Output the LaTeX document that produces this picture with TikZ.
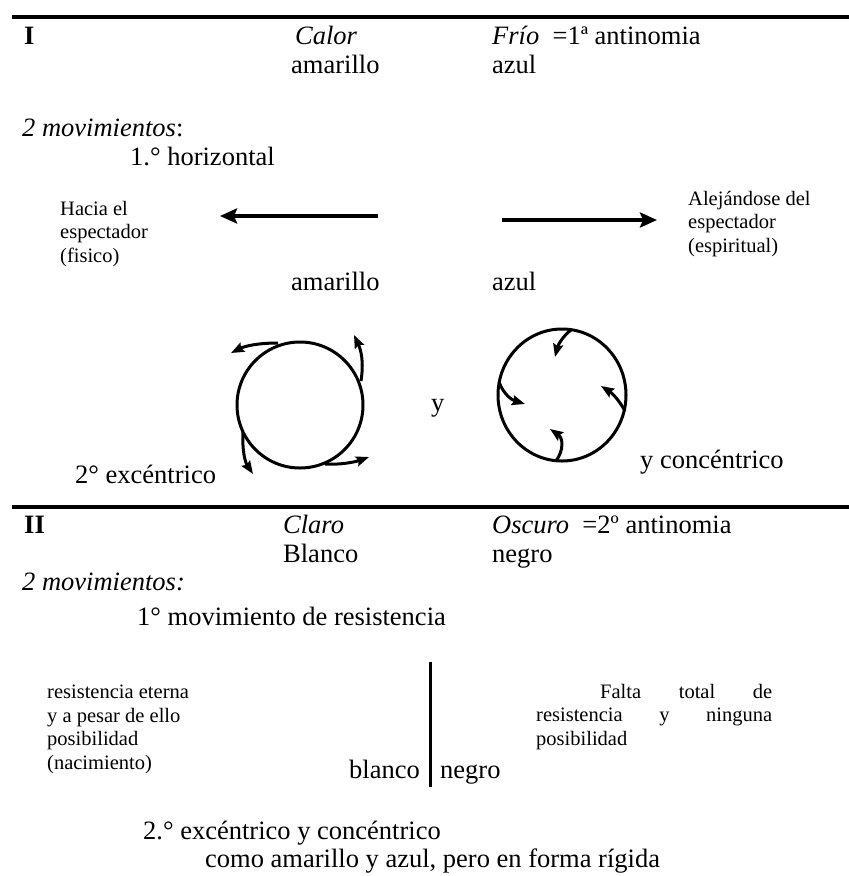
\documentclass[tikz,border=0pt]{standalone}
\usepackage{fontspec}
\setmainfont{Liberation Serif}
\usetikzlibrary{arrows.meta}
\begin{document}
\begin{tikzpicture}[x=1pt,y=-1pt,
  txt/.style={anchor=base west,inner sep=0pt,font=\fontsize{26.5}{30}\selectfont},
  sml/.style={anchor=base west,inner sep=0pt,align=left,font=\fontsize{20.5}{23.5}\selectfont},
  rulebar/.style={line width=4pt},
  bigarrow/.style={line width=3.5pt,-{Stealth[length=17pt,width=15pt,inset=3pt]}},
  circarrow/.style={line width=3pt,-{Stealth[length=13pt,width=10pt,inset=2pt]}},
  ring/.style={line width=3pt}]
\useasboundingbox (0,0) rectangle (849,876);
% ---------- Section I ----------
\coordinate (r1a) at (12,17); \coordinate (r1b) at (849,17);
\draw[rulebar] (r1a) -- (r1b);
\node[txt,font=\fontsize{26.5}{30}\selectfont\bfseries] (I) at (24,44) {I};
\node[txt] (calor) at (295,44) {\itshape Calor};
\node[txt] (frio) at (492,44) {\textit{Frío}\ \ =1ª antinomia};
\node[txt] (am1) at (291,73) {amarillo};
\node[txt] (az1) at (492,73) {azul};
\node[txt] (mov1) at (22,136) {\textit{2 movimientos}:};
\node[txt] (hor) at (130,165) {1.° horizontal};
\node[sml] (hacia) at (60,262) {Hacia el\\espectador\\(fisico)};
\node[sml] (alej) at (688,252) {Alejándose del\\espectador\\(espiritual)};
\coordinate (la1) at (378,216); \coordinate (la2) at (220,216);
\draw[bigarrow] (la1) -- (la2);
\coordinate (ra1) at (502,220); \coordinate (ra2) at (657,220);
\draw[bigarrow] (ra1) -- (ra2);
\node[txt] (am2) at (291,290) {amarillo};
\node[txt] (az2) at (492,290) {azul};
% left circle (eccentric)
\coordinate (lc) at (300,405);
\draw[ring] (lc) circle[radius=63];
\draw[circarrow] (278,343) .. controls (258,343) and (245,346) .. (231,353);
\draw[circarrow] (361,381) .. controls (364,362) and (361,350) .. (354,335);
\draw[circarrow] (243,432) .. controls (242,450) and (245,462) .. (253,474);
\draw[circarrow] (325,464) .. controls (340,465) and (355,462) .. (369,457);
\node[txt] (y) at (431,411) {y};
% right circle (concentric)
\coordinate (rc) at (562,395);
\draw[ring] (rc) ellipse[x radius=64,y radius=66];
\draw[circarrow] (571,330) .. controls (563,336) and (558,345) .. (555,357);
\draw[circarrow] (499,382) .. controls (504,395) and (512,400) .. (525,404);
\draw[circarrow] (625,411) .. controls (619,400) and (612,393) .. (601,386);
\draw[circarrow] (556,461) .. controls (564,450) and (563,438) .. (550,429);
\node[txt] (conc) at (640,468) {y concéntrico};
\node[txt] (exc) at (75,483) {2° excéntrico};
% ---------- Section II ----------
\coordinate (r2a) at (12,507); \coordinate (r2b) at (849,507);
\draw[rulebar] (r2a) -- (r2b);
\node[txt,font=\fontsize{26.5}{30}\selectfont\bfseries] (II) at (24,533) {II};
\node[txt] (claro) at (283,533) {\itshape Claro};
\node[txt] (oscuro) at (492,533) {\textit{Oscuro}\ \ =2º antinomia};
\node[txt] (blanco1) at (283,562) {Blanco};
\node[txt] (negro1) at (492,562) {negro};
\node[txt] (mov2) at (22,590) {\itshape 2 movimientos:};
\node[txt] (res) at (137,625) {1° movimiento de resistencia};
\node[sml] (eterna) at (47,769) {resistencia eterna\\y a pesar de ello\\posibilidad\\(nacimiento)};
\node[sml,align=justify] (falta) at (536,745) {%
  \hbox to 236pt{\hspace*{64pt}Falta\hfill total\hfill de}\\
  \hbox to 236pt{resistencia\hfill y\hfill ninguna}\\
  posibilidad};
\coordinate (v1) at (430,662); \coordinate (v2) at (430,787);
\draw[line width=3pt] (v1) -- (v2);
\node[txt,anchor=base east] (blanco2) at (420,778) {blanco};
\node[txt] (negro2) at (440,778) {negro};
\node[txt] (exc2) at (143,839) {2.° excéntrico y concéntrico};
\node[txt] (como) at (205,867) {como amarillo y azul, pero en forma rígida};
\end{tikzpicture}
\end{document}
